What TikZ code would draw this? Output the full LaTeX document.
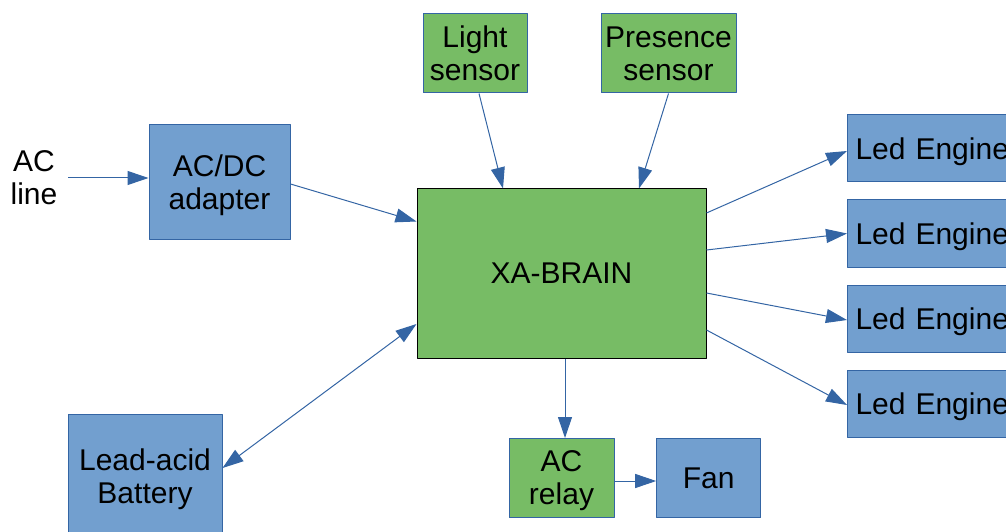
\documentclass[tikz,border=0pt]{standalone}
\usepackage{fontspec}
\setmainfont{Liberation Sans}
\usetikzlibrary{arrows.meta}
\definecolor{boxblue}{HTML}{729FCF}
\definecolor{lineblue}{HTML}{3465A4}
\definecolor{boxgreen}{HTML}{77BC65}
\begin{document}
\begin{tikzpicture}[x=1pt, y=1pt, line join=round,
    every node/.style={font=\fontsize{30}{33}\selectfont, align=center, inner sep=2pt, text depth=0pt},
    bluebox/.style={draw=lineblue, fill=boxblue, line width=1pt},
    greenbox/.style={draw=lineblue, fill=boxgreen, line width=1pt},
    tip/.style={Triangle[length=21pt, width=14pt]},
    link/.style={draw=lineblue, line width=1pt, -{Triangle[length=21pt, width=14pt]}}]
    % 画布范围 (按原图 1006x531)
    \clip (0,0) rectangle (1006,531);

    % 电源部分
    \node (acline) at (34,353) {AC\\line};
    \coordinate (acin) at (68,353);
    \node[bluebox, minimum width=141, minimum height=114] (adapter) at (219.5,349) {AC/DC\\adapter};
    \node[bluebox, minimum width=154, minimum height=124] (battery) at (145,55) {Lead-acid\\Battery};

    % 传感器与主控
    \node[greenbox, minimum width=104, minimum height=79] (light) at (475,477.5) {Light\\sensor};
    \node[greenbox, minimum width=135, minimum height=79] (presence) at (668.5,477.5) {Presence\\sensor};
    \node[draw=black, fill=boxgreen, line width=1pt, minimum width=289, minimum height=169] (brain) at (561.5,257.5) {XA-BRAIN};

    % 输出部分
    \foreach \i/\y in {1/382.5, 2/297.5, 3/212.5, 4/127.5}
        \node[bluebox, anchor=west, minimum height=67, text width=190, align=left, inner xsep=8pt] (led\i) at (847,\y) {Led Engine};
    \node[greenbox, minimum width=105, minimum height=79] (relay) at (561.5,53) {AC\\relay};
    \node[bluebox, minimum width=104, minimum height=79] (fan) at (708.7,53) {Fan};

    % 连线
    \draw[link] (acin) -- (acin -| adapter.west);
    \draw[link] ([yshift=-2pt]adapter.east) -- ([yshift=52pt]brain.west);
    \draw[link] ([xshift=4pt]light.south) -- ([xshift=-58.5pt]brain.north);
    \draw[link] (presence.south) -- ([xshift=77.5pt]brain.north);
    \draw[link] ([yshift=60.5pt]brain.east) -- ([yshift=-2.5pt]led1.west);
    \draw[link] ([yshift=23.5pt]brain.east) -- (led2.west);
    \draw[link] ([yshift=-19.5pt]brain.east) -- ([yshift=-1.5pt]led3.west);
    \draw[link] ([yshift=-56.5pt]brain.east) -- ([yshift=-1.5pt]led4.west);
    \draw[link, {Triangle[length=21pt, width=14pt]}-{Triangle[length=21pt, width=14pt]}] ([yshift=-50.5pt]brain.west) -- ([yshift=8pt]battery.east);
    \draw[link] ([xshift=3.5pt]brain.south) -- ([xshift=3.5pt]relay.north);
    \draw[link] ([yshift=-3pt]relay.east) -- ([yshift=-3pt]fan.west);
\end{tikzpicture}
\end{document}
